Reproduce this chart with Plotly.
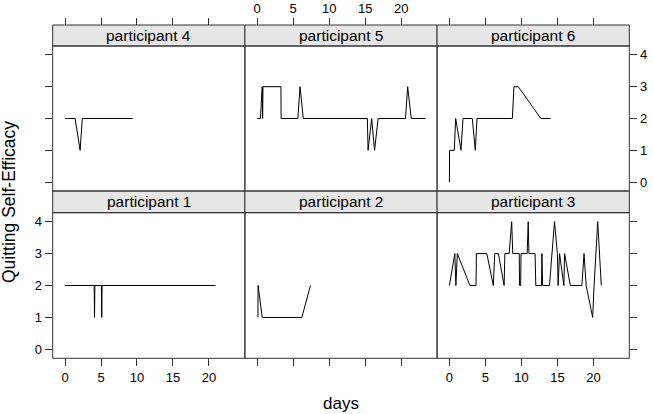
import plotly.graph_objects as go

# ---- data ----
p1_days = [0, 4.05, 4.1, 4.15, 5.05, 5.1, 5.15, 20.9]
p1_vals = [2, 2, 1, 2, 2, 1, 2, 2]

p2_days = [0.1, 0.12, 0.7, 6.2, 7.4]
p2_vals = [1, 2, 1, 1, 2]

p3_days = [0, 0.75, 0.9, 1.0, 1.1, 2.85, 3.7, 3.75, 5.2, 6.1, 6.3, 6.8, 7.6, 7.7, 8.3, 8.65,
           8.8, 9.7, 9.75, 9.9, 9.95, 10.8, 10.95, 11.05, 11.9, 12.0, 12.8, 12.85, 12.95, 13.9,
           14.6, 15.0, 15.1, 15.3, 15.9, 16.0, 16.8, 18.4, 18.7, 19.0, 19.9, 20.1, 20.6, 21.1]
p3_vals = [2, 3, 2, 3, 3, 2, 2, 3, 3, 2, 3, 3, 2, 3, 3, 4,
           3, 3, 2, 2, 3, 3, 4, 3, 3, 2, 2, 3, 2, 2,
           4, 3, 2, 3, 2, 3, 2, 2, 3, 2, 1, 2, 4, 2]

p4_days = [0, 1.4, 2.1, 2.4, 9.4]
p4_vals = [2, 2, 1, 2, 2]

p5_days = [0, 0.45, 0.7, 0.75, 0.8, 3.3, 3.32, 5.65, 5.95, 6.4, 15.3, 15.4, 15.9, 16.3, 16.8,
           20.6, 20.9, 21.4, 23.4]
p5_vals = [2, 2, 3, 2, 3, 3, 2, 2, 3, 2, 2, 1, 2, 1, 2, 2, 3, 2, 2]

p6_days = [0, 0.02, 0.68, 0.87, 1.61, 1.89, 3.18, 3.6, 3.83, 8.74, 8.97, 9.57, 12.7, 14.05]
p6_vals = [0, 1, 1, 2, 1, 2, 2, 1, 2, 2, 3, 3, 2, 2]

panel_names = ["participant 4", "participant 5", "participant 6",
               "participant 1", "participant 2", "participant 3"]
panel_days = [p4_days, p5_days, p6_days, p1_days, p2_days, p3_days]
panel_vals = [p4_vals, p5_vals, p6_vals, p1_vals, p2_vals, p3_vals]

x_ticks = [0, 5, 10, 15, 20]
y_ticks = [0, 1, 2, 3, 4]

# ---- layout geometry ----
W, H = 653, 414
def px(x): return x / W
def py(y): return 1 - y / H

xcols = [(52.7, 244.9), (244.9, 437.1), (437.1, 629.3)]
rows = [  # (plot top, plot bottom, strip top)
    (46.0, 191.0, 25.0),
    (212.7, 358.3, 191.0),
]
XR = [-1.71, 24.99]
YR = [-0.28, 4.28]
FONT = "Liberation Sans, Arial, Helvetica, sans-serif"
AX = "#333333"
TICKF = dict(size=13, family=FONT, color="black")

fig = go.Figure()
layout = dict(
    width=W, height=H, margin=dict(l=0, r=0, t=0, b=0),
    paper_bgcolor="white", plot_bgcolor="white", showlegend=False,
    font=dict(family=FONT, size=12, color="black"),
)
shapes = []
annotations = []

for i in range(6):
    r, c = divmod(i, 3)
    n = i + 1
    xs = "" if n == 1 else str(n)
    x0, x1 = xcols[c]
    top, bot, stop = rows[r]
    fig.add_trace(go.Scatter(x=panel_days[i], y=panel_vals[i], mode="lines",
                             line=dict(color="black", width=1),
                             xaxis="x" + xs, yaxis="y" + xs, hoverinfo="skip"))
    xa = dict(domain=[px(x0), px(x1)], range=XR, showgrid=False, zeroline=False,
              showline=False, tickvals=x_ticks, ticks="outside", ticklen=7,
              tickcolor=AX, tickfont=TICKF)
    ya = dict(domain=[py(bot), py(top)], range=YR, showgrid=False, zeroline=False,
              showline=False, tickvals=y_ticks, tickfont=TICKF,
              tickcolor=AX, ticklen=7)
    if r == 0:
        xa.update(side="top", anchor="free", position=py(stop),
                  showticklabels=(c == 1))
    else:
        xa.update(side="bottom", anchor="y" + xs, showticklabels=(c != 1))
    if c == 0:
        ya.update(side="left", anchor="x" + xs, ticks="outside", showticklabels=(r == 1))
    elif c == 2:
        ya.update(side="right", anchor="x" + xs, ticks="outside", showticklabels=(r == 0))
    else:
        ya.update(anchor="x" + xs, ticks="", showticklabels=False)
    layout["xaxis" + xs] = xa
    layout["yaxis" + xs] = ya
    # strip
    shapes.append(dict(type="rect", xref="paper", yref="paper",
                       x0=px(x0), x1=px(x1), y0=py(top), y1=py(stop),
                       fillcolor="#e6e6e6", line=dict(color=AX, width=1), layer="below"))
    # panel border
    shapes.append(dict(type="rect", xref="paper", yref="paper",
                       x0=px(x0), x1=px(x1), y0=py(bot), y1=py(top),
                       line=dict(color=AX, width=1), fillcolor="rgba(0,0,0,0)", layer="above"))
    annotations.append(dict(text=panel_names[i], xref="paper", yref="paper",
                            x=px((x0 + x1) / 2), y=py((top + stop) / 2),
                            showarrow=False, xanchor="center", yanchor="middle",
                            font=dict(size=15.5, family=FONT, color="black")))

annotations.append(dict(text="days", xref="paper", yref="paper", x=px(341), y=py(403),
                        showarrow=False, xanchor="center", yanchor="middle",
                        font=dict(size=17, family=FONT, color="black")))
annotations.append(dict(text="Quitting Self-Efficacy", xref="paper", yref="paper",
                        x=px(9), y=py(202), textangle=-90, showarrow=False,
                        xanchor="center", yanchor="middle",
                        font=dict(size=17.5, family=FONT, color="black")))

layout["shapes"] = shapes
layout["annotations"] = annotations
fig.update_layout(**layout)
fig.write_html("out.html", config={"displayModeBar": False},
               post_script="document.body.style.margin='0';document.body.style.padding='0';")
